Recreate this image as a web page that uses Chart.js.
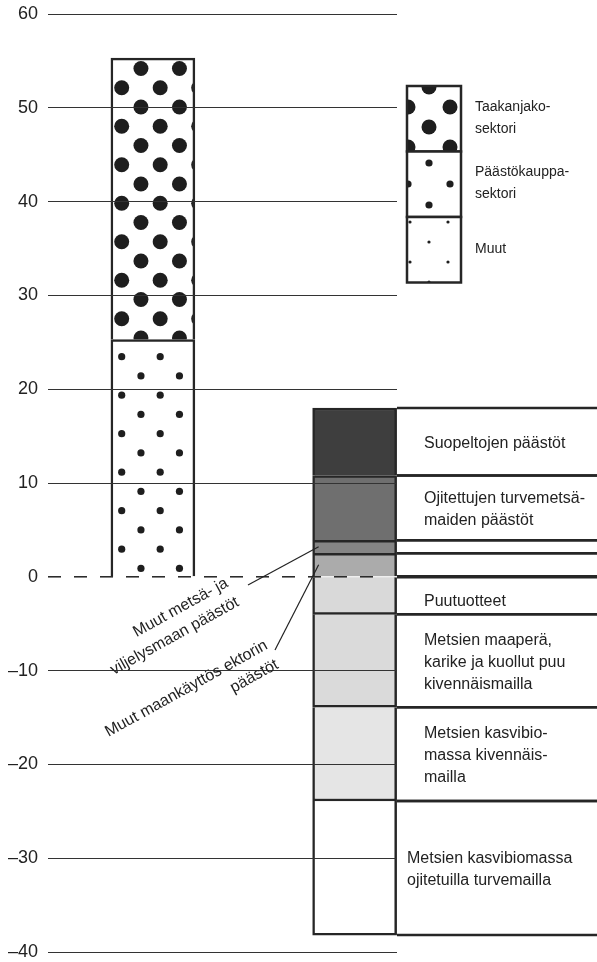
<!DOCTYPE html>
<html>
<head>
<meta charset="utf-8">
<script src="https://cdn.jsdelivr.net/npm/chart.js@4"></script>
<style>
  html, body { margin: 0; padding: 0; background: #fff; }
</style>
</head>
<body>
<canvas id="chart" width="597" height="962"></canvas>
<script>
// y axis
const yMin = -40;
const yMax = 60;
const yStep = 10;

// left bar (stacked from 0 upwards)
const leftLabels = ["Päästökauppasektori", "Taakanjakosektori"];
const leftValues = [25.3, 30.0];

// right bar, positive part first (from 0 up), then negative part (from 0 down)
const rightLabels = [
  "Muut maankäyttösektorin päästöt",
  "Muut metsä- ja viljelysmaan päästöt",
  "Ojitettujen turvemetsämaiden päästöt",
  "Suopeltojen päästöt",
  "Puutuotteet",
  "Metsien maaperä, karike ja kuollut puu kivennäismailla",
  "Metsien kasvibiomassa kivennäismailla",
  "Metsien kasvibiomassa ojitetuilla turvemailla",
];
const rightValues = [2.5, 1.4, 6.9, 7.2, -4.0, -9.9, -10.0, -14.3];

// text written in the table next to the right bar
const tableText = [
  [],
  [],
  ["Ojitettujen turvemetsä-", "maiden päästöt"],
  ["Suopeltojen päästöt"],
  ["Puutuotteet"],
  ["Metsien maaperä,", "karike ja kuollut puu", "kivennäismailla"],
  ["Metsien kasvibio-", "massa kivennäis-", "mailla"],
  ["Metsien kasvibiomassa", "ojitetuilla turvemailla"],
];

// rotated notes for the two thin segments
const noteText = [
  ["Muut maankäyttös ektorin", "päästöt"],
  ["Muut metsä- ja", "viljelysmaan päästöt"],
];

const legendText = [["Taakanjako-", "sektori"], ["Päästökauppa-", "sektori"], ["Muut"]];

// ---- styles ----
const FONT = "'Liberation Sans', Arial, sans-serif";
const INK = "#222";
const rightColors = ["#ababab", "#858585", "#6f6f6f", "#3e3e3e", "#d9d9d9", "#dadada", "#e5e5e5", "#ffffff"];

const canvas = document.getElementById("chart");
const ctx = canvas.getContext("2d");

function dotPattern(radius, tileW, tileH, nx, ny, ox, oy) {
  const c = document.createElement("canvas");
  c.width = tileW;
  c.height = tileH;
  const g = c.getContext("2d");
  g.fillStyle = "#fff";
  g.fillRect(0, 0, tileW, tileH);
  g.fillStyle = "#1e1e1e";
  const px = tileW / nx, py = tileH / ny;
  const bx = ox % px, by = oy % py;
  for (let i = -2; i <= nx + 1; i++) {
    for (let j = -2; j <= ny + 1; j++) {
      [[0, 0], [px / 2, py / 2]].forEach(([dx, dy]) => {
        g.beginPath();
        g.arc(bx + i * px + dx, by + j * py + dy, radius, 0, Math.PI * 2);
        g.fill();
      });
    }
  }
  return ctx.createPattern(c, "repeat");
}

const bigDots = dotPattern(7.5, 77, 77, 2, 2, 121.7, 87.7);
const midDots = dotPattern(3.6, 77, 77, 2, 2, 121.7, 356.7);
const leftFills = [midDots, bigDots];
const legendFills = [
  dotPattern(7.5, 42, 40, 1, 1, 429, 87),
  dotPattern(3.6, 42, 42, 1, 1, 429, 163),
  dotPattern(1.6, 38, 40, 1, 1, 429, 242),
];

const barStyle = {
  borderColor: "#262626",
  borderWidth: 2.5,
  barThickness: 84,
};

const datasets = [];
leftLabels.forEach((label, i) => {
  datasets.push({
    label: label,
    data: [{ x: 1, y: leftValues[i] }],
    backgroundColor: leftFills[i],
    ...barStyle,
  });
});
rightLabels.forEach((label, i) => {
  datasets.push({
    label: label,
    data: [{ x: 2, y: rightValues[i] }],
    backgroundColor: rightColors[i],
    ...barStyle,
  });
});

const overlay = {
  id: "overlay",
  afterDraw(chart) {
    const c = chart.ctx;
    const area = chart.chartArea;
    const yScale = chart.scales.y;
    c.save();

    // dashed zero line
    const y0 = yScale.getPixelForValue(0);
    c.strokeStyle = INK;
    c.lineWidth = 1.5;
    c.setLineDash([13, 13]);
    c.beginPath();
    c.moveTo(area.left, y0);
    c.lineTo(area.right - 20, y0);
    c.stroke();
    c.setLineDash([]);

    // table rows beside the right bar
    c.font = "16px " + FONT;
    c.fillStyle = INK;
    c.textBaseline = "middle";
    c.textAlign = "left";
    c.lineWidth = 2.5;
    c.strokeStyle = "#262626";
    rightLabels.forEach((label, i) => {
      const bar = chart.getDatasetMeta(leftLabels.length + i).data[0];
      const top = Math.min(bar.y, bar.base);
      const bottom = Math.max(bar.y, bar.base);
      [top, bottom].forEach((yy) => {
        c.beginPath();
        c.moveTo(area.right, yy);
        c.lineTo(chart.width, yy);
        c.stroke();
      });
      const lines = tableText[i];
      const tx = i === rightLabels.length - 1 ? area.right + 10 : area.right + 27;
      const mid = (top + bottom) / 2 + (lines.length === 1 && i > 3 ? 6 : 2);
      lines.forEach((t, k) => {
        c.fillText(t, tx, mid + (k - (lines.length - 1) / 2) * 22);
      });
    });

    // rotated notes with leader lines
    const notes = [
      { anchor: [266.5, 644.4], start: [275, 650] },
      { anchor: [227, 582], start: [248, 585] },
    ];
    c.lineWidth = 1.2;
    c.strokeStyle = INK;
    notes.forEach((n, i) => {
      const bar = chart.getDatasetMeta(leftLabels.length + i).data[0];
      c.beginPath();
      c.moveTo(n.start[0], n.start[1]);
      c.lineTo(bar.x - bar.width / 2 + 6, (bar.y + bar.base) / 2);
      c.stroke();
      c.save();
      c.translate(n.anchor[0], n.anchor[1]);
      c.rotate(-29 * Math.PI / 180);
      c.textAlign = "right";
      noteText[i].forEach((t, k) => c.fillText(t, 0, k * 22));
      c.restore();
    });

    // legend
    const lx = area.right + 10, lw = 54, lh = 65.5, ly = 86;
    c.lineWidth = 2.5;
    c.strokeStyle = "#262626";
    legendText.forEach((lines, i) => {
      const top = ly + i * lh;
      c.fillStyle = legendFills[i];
      c.fillRect(lx, top, lw, lh);
      c.strokeRect(lx, top, lw, lh);
      c.fillStyle = INK;
      c.font = "14px " + FONT;
      c.textAlign = "left";
      lines.forEach((t, k) => {
        c.fillText(t, lx + 68, top + lh / 2 - 1 + (k - (lines.length - 1) / 2) * 22);
      });
    });

    c.restore();
  },
};

new Chart(ctx, {
  type: "bar",
  data: { datasets: datasets },
  options: {
    responsive: false,
    animation: false,
    layout: { padding: { top: 14, bottom: 10, left: 0, right: 200 } },
    scales: {
      x: {
        type: "linear",
        display: false,
        stacked: true,
        offset: false,
        min: 0.48,
        max: 2.21,
      },
      y: {
        stacked: true,
        min: yMin,
        max: yMax,
        afterFit(scale) {
          scale.width = 48;
          scale.paddingTop = 0;
          scale.paddingBottom = 0;
        },
        border: { display: false },
        grid: {
          z: 1,
          drawTicks: false,
          lineWidth: 1,
          color: (c) => (c.tick && c.tick.value === 0 ? "rgba(0,0,0,0)" : "#333"),
        },
        ticks: {
          stepSize: yStep,
          padding: 10,
          color: INK,
          font: { family: FONT, size: 18 },
          callback: (v) => (v < 0 ? "\u2013" + Math.abs(v) : String(v)),
        },
      },
    },
    plugins: {
      legend: { display: false },
      tooltip: { enabled: false },
    },
  },
  plugins: [overlay],
});
</script>
</body>
</html>
